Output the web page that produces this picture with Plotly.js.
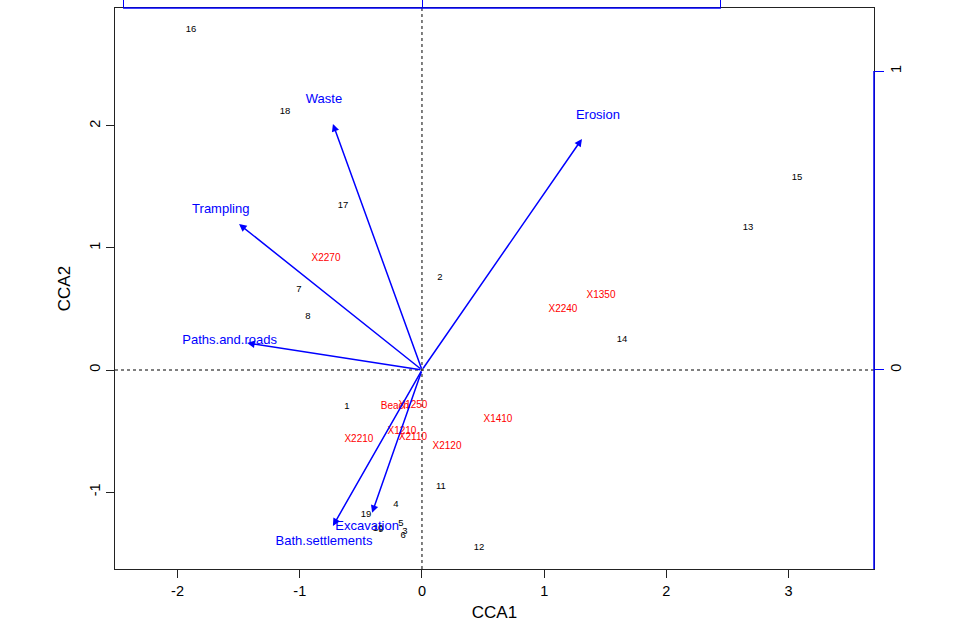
<!DOCTYPE html>
<html>
<head>
<meta charset="utf-8">
<script src="https://cdn.plot.ly/plotly-3.0.1.min.js"></script>
<style>
  html, body { margin: 0; padding: 0; background: #fff; }
  #plot { width: 960px; height: 626px; }
</style>
</head>
<body>
<div id="plot"></div>
<script>
// site scores (CCA1, CCA2)
const siteLabels = ['16', '18', '17', '2', '7', '8', '15', '13', '14', '1', '11', '4', '19', '5', '10', '9', '3', '6', '12'];
const siteX = [-1.890, -1.121, -0.646, 0.147, -1.007, -0.933, 3.069, 2.668, 1.637, -0.614, 0.155, -0.213, -0.458, -0.172, -0.360, -0.336, -0.139, -0.155, 0.466];
const siteY = [2.787, 2.115, 1.344, 0.754, 0.656, 0.434, 1.574, 1.164, 0.246, -0.303, -0.959, -1.107, -1.189, -1.262, -1.303, -1.311, -1.328, -1.361, -1.459];

// species scores
const speciesLabels = ['X2270', 'X1350', 'X2240', 'Beach', 'X1250', 'X1210', 'X2110', 'X2210', 'X2120', 'X1410'];
const speciesX = [-0.785, 1.465, 1.154, -0.221, -0.074, -0.164, -0.074, -0.516, 0.205, 0.622];
const speciesY = [0.918, 0.607, 0.500, -0.303, -0.287, -0.508, -0.557, -0.566, -0.631, -0.402];

// biplot arrows for environmental variables (arrow scale, top/right axes)
const envLabels = ['Erosion', 'Waste', 'Trampling', 'Paths.and.roads', 'Excavation', 'Bath.settlements'];
const envX = [0.535, -0.298, -0.612, -0.585, -0.167, -0.298];
const envY = [0.773, 0.823, 0.488, 0.090, -0.478, -0.522];

const xTicks = [-2, -1, 0, 1, 2, 3];
const yTicks = [-1, 0, 1, 2];
const x2Ticks = [-1, 0, 1];
const y2Ticks = [0, 1];

const xr = [-2.512, 3.699];
const yr = [-1.631, 2.967];
const x2r = [-1.027, 1.512];
const y2r = [-0.666, 1.211];

const FONT = 'Liberation Sans, Arial, Helvetica, sans-serif';
const BLUE = '#0000ff';
const RED = '#ff0000';
const INK = '#222';

const traces = [
  {
    x: siteX, y: siteY, text: siteLabels, type: 'scatter', mode: 'text',
    textfont: { family: FONT, size: 9.5, color: '#000' },
    hoverinfo: 'none', cliponaxis: false, xaxis: 'x', yaxis: 'y'
  },
  {
    x: speciesX, y: speciesY, text: speciesLabels, type: 'scatter', mode: 'text',
    textfont: { family: FONT, size: 10, color: RED },
    hoverinfo: 'none', cliponaxis: false, xaxis: 'x', yaxis: 'y'
  },
  {
    // labels sit just beyond the arrow heads
    x: envX.map(v => v * 1.1), y: envY.map(v => v * 1.1), text: envLabels,
    type: 'scatter', mode: 'text',
    textfont: { family: FONT, size: 13, color: BLUE },
    hoverinfo: 'none', cliponaxis: false, xaxis: 'x2', yaxis: 'y2'
  }
];

const arrows = envX.map((x, i) => ({
  xref: 'x2', yref: 'y2', axref: 'x2', ayref: 'y2',
  x: x, y: envY[i], ax: 0, ay: 0,
  text: '', showarrow: true,
  arrowhead: 2, arrowsize: 1, arrowwidth: 1.5, arrowcolor: BLUE, standoff: 0
}));

const baseAxis = {
  showgrid: false, zeroline: false,
  ticks: 'outside', ticklen: 8, tickwidth: 1, tickcolor: INK,
  showline: true, linecolor: INK, linewidth: 1.3, mirror: true,
  tickfont: { family: FONT, size: 14.5, color: '#000' },
  automargin: false, fixedrange: true
};

const layout = {
  width: 960, height: 626,
  margin: { l: 115, r: 86, t: 8, b: 57, pad: 0 },
  paper_bgcolor: '#fff', plot_bgcolor: '#fff',
  showlegend: false,
  font: { family: FONT, color: '#000' },
  xaxis: {
    ...baseAxis, range: xr, tickvals: xTicks, ticktext: xTicks.map(String),
    title: { text: 'CCA1', font: { family: FONT, size: 17 }, standoff: 8 }
  },
  yaxis: {
    ...baseAxis, range: yr, tickvals: yTicks, ticktext: yTicks.map(String), tickangle: -90,
    title: { text: 'CCA2', font: { family: FONT, size: 17 }, standoff: 12 }
  },
  xaxis2: {
    overlaying: 'x', side: 'top', anchor: 'y', range: x2r, tickvals: x2Ticks,
    showgrid: false, zeroline: false, showline: false, showticklabels: false,
    ticks: 'outside', ticklen: 8, tickwidth: 1, tickcolor: BLUE,
    automargin: false, fixedrange: true
  },
  yaxis2: {
    overlaying: 'y', side: 'right', anchor: 'x', range: y2r, tickvals: y2Ticks,
    ticktext: y2Ticks.map(String), tickangle: -90,
    showgrid: false, zeroline: false, showline: false,
    ticks: 'outside', ticklen: 9, tickwidth: 1, tickcolor: BLUE,
    tickfont: { family: FONT, size: 14.5, color: '#000' },
    automargin: false, fixedrange: true
  },
  shapes: [
    { type: 'line', xref: 'x', yref: 'paper', x0: 0, x1: 0, y0: 0, y1: 1, layer: 'below',
      line: { color: '#000', width: 1, dash: 'dot' } },
    { type: 'line', xref: 'paper', yref: 'y', x0: 0, x1: 1, y0: 0, y1: 0, layer: 'below',
      line: { color: '#000', width: 1, dash: 'dot' } },
    // arrow-scale axis lines
    { type: 'line', xref: 'x2', yref: 'paper', x0: x2Ticks[0], x1: x2Ticks[x2Ticks.length - 1], y0: 1, y1: 1,
      layer: 'above', line: { color: BLUE, width: 1.5 } },
    { type: 'line', xref: 'paper', yref: 'y2', x0: 1, x1: 1, y0: y2r[0], y1: y2Ticks[y2Ticks.length - 1],
      layer: 'above', line: { color: BLUE, width: 1.5 } }
  ],
  annotations: arrows
};

Plotly.newPlot('plot', traces, layout, { displayModeBar: false, staticPlot: true });
</script>
</body>
</html>
